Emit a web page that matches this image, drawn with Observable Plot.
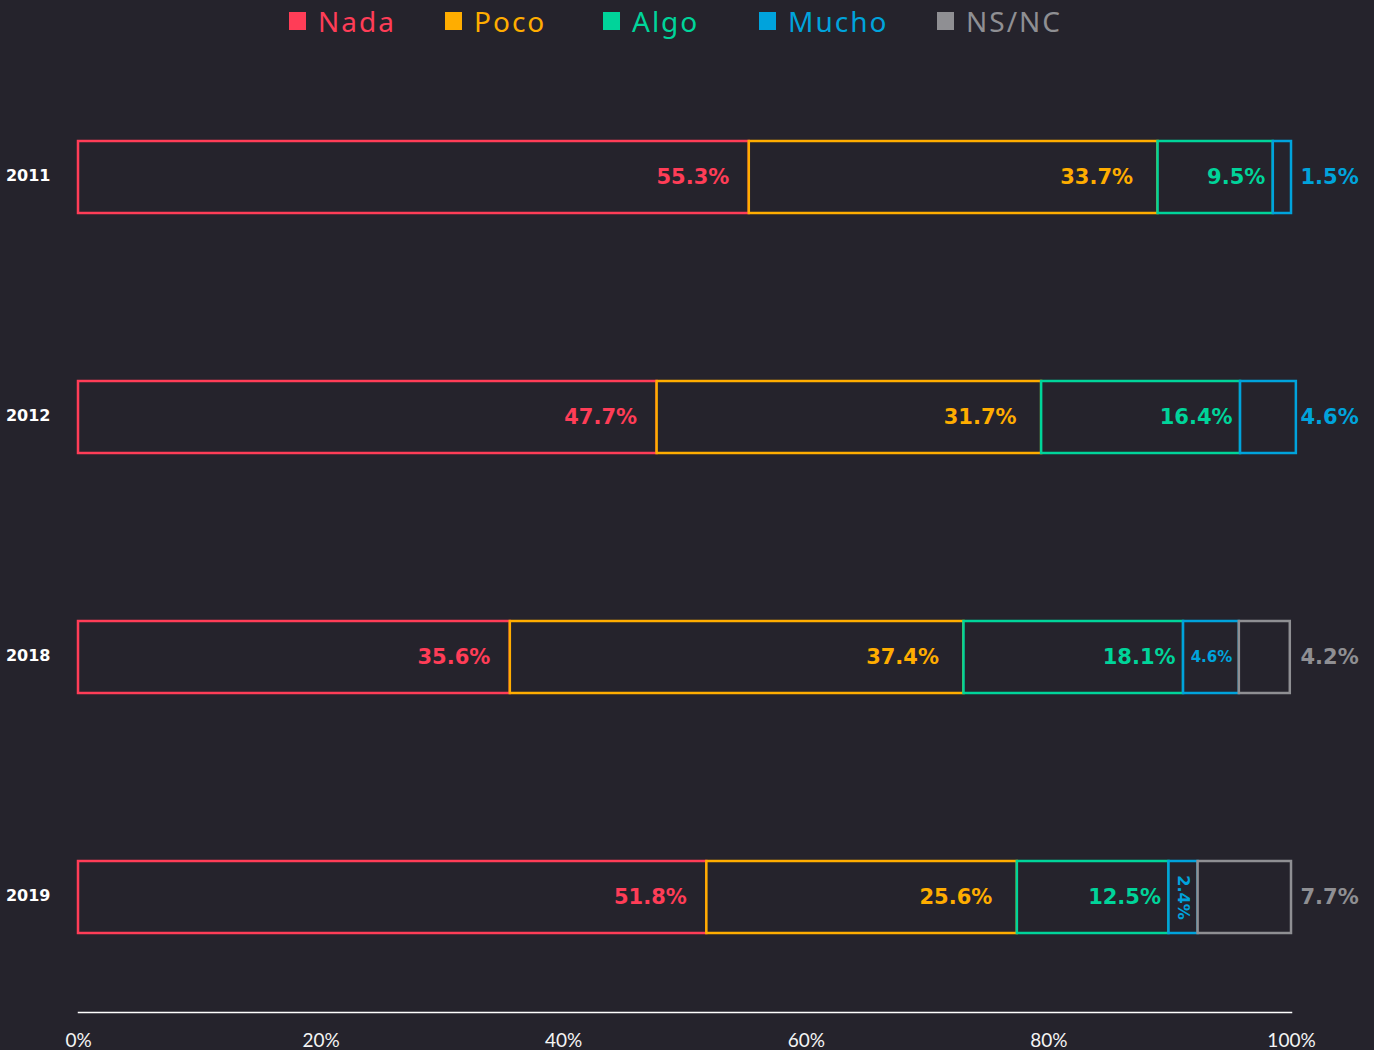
<!DOCTYPE html>
<html>
<head>
<meta charset="utf-8">
<script src="https://cdn.jsdelivr.net/npm/d3@7"></script>
<script src="https://cdn.jsdelivr.net/npm/@observablehq/plot@0.6"></script>
<style>
  html, body { margin: 0; padding: 0; background: #25232c; }
  #wrap { position: relative; width: 1374px; height: 1050px; overflow: hidden; }
  #legend { position: absolute; left: 0; top: 3px; width: 1374px; height: 36px;
            font-family: "Noto Sans", sans-serif; font-size: 28px; letter-spacing: 2px; }
  .item { position: absolute; top: 0; height: 36px; display: flex; align-items: center; white-space: nowrap; }
  .sw { width: 17px; height: 18px; margin-right: 12px; display: inline-block; }
  #chart { position: absolute; left: 0; top: 45px; }
</style>
</head>
<body>
<div id="wrap">
  <div id="legend"></div>
  <div id="chart"></div>
</div>
<script>
const years = ["2011", "2012", "2018", "2019"];
const categories = ["Nada", "Poco", "Algo", "Mucho", "NS/NC"];
const colors = ["#ff3d57", "#ffad00", "#00d49a", "#00a3dc", "#8f8f93"];
const nada  = [55.3, 47.7, 35.6, 51.8];
const poco  = [33.7, 31.7, 37.4, 25.6];
const algo  = [9.5, 16.4, 18.1, 12.5];
const mucho = [1.5, 4.6, 4.6, 2.4];
const nsnc  = [null, null, 4.2, 7.7];
const xTicks = [0, 20, 40, 60, 80, 100];

const series = [nada, poco, algo, mucho, nsnc];
const bg = "#25232c";

// build rows
const rows = [];
years.forEach((yr, i) => {
  let acc = 0;
  const present = series.map((s, k) => ({k, v: s[i]})).filter(d => d.v != null);
  present.forEach((d, j) => {
    const x1 = acc, x2 = acc + d.v;
    acc = x2;
    let place = "inside";
    if (j === present.length - 1) place = "outside";
    else if (d.k === 3) place = d.v >= 3 ? "small" : "rotated";
    rows.push({year: yr, cat: categories[d.k], k: d.k, value: d.v, x1, x2, mid: (x1 + x2) / 2, place});
  });
});

// legend
const legendLeft = [289, 445, 603, 759, 937];
const legend = document.getElementById("legend");
categories.forEach((c, i) => {
  const it = document.createElement("div");
  it.className = "item";
  it.style.left = legendLeft[i] + "px";
  it.innerHTML = `<span class="sw" style="background:${colors[i]}"></span><span style="color:${colors[i]}">${c}</span>`;
  legend.appendChild(it);
});

const fmt = v => v.toFixed(1) + "%";
const labelFont = "DejaVu Sans";
const catDx = [-20, -25, -8, -8, -8];

const marks = [
  Plot.barX(rows, {
    x1: "x1", x2: "x2", y: "year",
    fill: bg, stroke: d => colors[d.k], strokeWidth: 2.5
  }),
  ...[0, 1, 2].map(k => Plot.text(rows.filter(d => d.k === k && d.place === "inside"), {
    x: "x2", y: "year", text: d => fmt(d.value), fill: colors[k],
    textAnchor: "end", dx: catDx[k], fontSize: 21, fontWeight: "bold", fontFamily: labelFont
  })),
  Plot.text(rows.filter(d => d.place === "outside"), {
    x: 100, y: "year", text: d => fmt(d.value), fill: d => colors[d.k],
    textAnchor: "start", dx: 9, fontSize: 21, fontWeight: "bold", fontFamily: labelFont
  }),
  Plot.text(rows.filter(d => d.place === "small"), {
    x: "mid", y: "year", text: d => fmt(d.value), fill: d => colors[d.k],
    textAnchor: "middle", fontSize: 15, fontWeight: "bold", fontFamily: labelFont
  }),
  Plot.text(rows.filter(d => d.place === "rotated"), {
    x: "mid", y: "year", text: d => fmt(d.value), fill: d => colors[d.k],
    textAnchor: "middle", rotate: 90, fontSize: 16, fontWeight: "bold", fontFamily: labelFont
  }),
  Plot.frame({anchor: "bottom", stroke: "#ffffff", strokeWidth: 1.5}),
  Plot.axisX({ticks: xTicks, tickFormat: d => d + "%", tickSize: 0, tickPadding: 21,
    fontSize: 19, fontWeight: "normal", fontFamily: "Lato", fill: "#f4f4f4", label: null}),
  Plot.axisY({tickSize: 0, tickPadding: 28, fontSize: 16, fontWeight: "bold",
    fontFamily: "DejaVu Sans", fill: "#ffffff", label: null, dy: -2})
];

const chart = Plot.plot({
  width: 1374,
  height: 1005,
  marginLeft: 78,
  marginRight: 83,
  marginTop: 17,
  marginBottom: 38,
  style: {background: bg, color: "#ffffff", overflow: "visible"},
  x: {domain: [0, 100]},
  y: {domain: years, paddingInner: 0.7, paddingOuter: 0.324},
  marks
});
document.getElementById("chart").appendChild(chart);
</script>
</body>
</html>
